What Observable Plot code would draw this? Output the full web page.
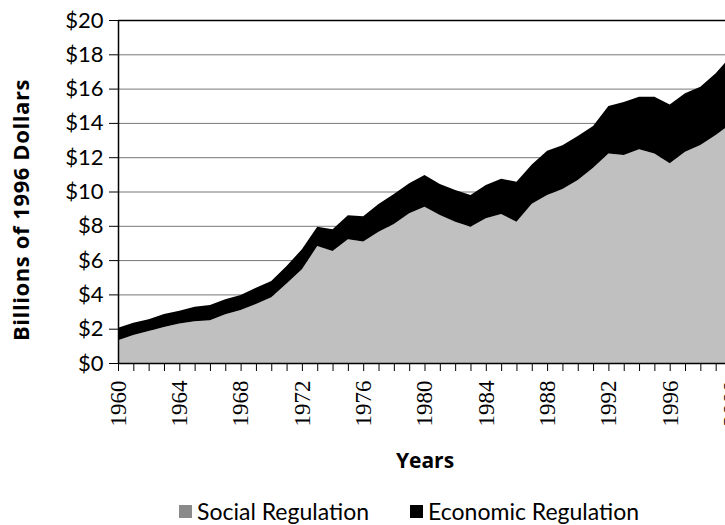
<!DOCTYPE html>
<html>
<head>
<meta charset="utf-8">
<script src="https://cdn.jsdelivr.net/npm/d3@7"></script>
<script src="https://cdn.jsdelivr.net/npm/@observablehq/plot@0.6"></script>
<style>
  html, body { margin: 0; padding: 0; background: #fff; overflow: hidden; width: 725px; height: 525px; }
  #chart { position: absolute; left: 0; top: 0; width: 741px; }
  #chart svg { max-width: none !important; width: 741px; height: 485px; }
  #chart .ylab text { letter-spacing: 0.6px; }
  #legend { position: absolute; left: 179px; top: 497px; display: flex; align-items: center; font-family: Lato, sans-serif; font-size: 23px; color: #000; white-space: nowrap; }
  .sw { display: inline-block; width: 13px; height: 13px; margin-right: 5px; }
  .item { display: flex; align-items: center; margin-right: 41px; }
</style>
</head>
<body>
<div id="chart"></div>
<div id="legend"></div>
<script>
const years = [1960,1961,1962,1963,1964,1965,1966,1967,1968,1969,1970,1971,1972,1973,1974,1975,1976,1977,1978,1979,1980,1981,1982,1983,1984,1985,1986,1987,1988,1989,1990,1991,1992,1993,1994,1995,1996,1997,1998,1999,2000];
const socialRegulation = [1.32,1.63,1.87,2.10,2.31,2.43,2.50,2.84,3.09,3.44,3.83,4.64,5.46,6.82,6.53,7.22,7.08,7.66,8.10,8.73,9.11,8.63,8.24,7.95,8.44,8.69,8.24,9.29,9.80,10.15,10.67,11.39,12.22,12.13,12.46,12.22,11.64,12.32,12.71,13.29,13.95];
const economicRegulation = [0.74,0.72,0.68,0.76,0.74,0.85,0.88,0.87,0.87,0.95,0.95,1.02,1.17,1.13,1.27,1.40,1.47,1.61,1.75,1.75,1.85,1.81,1.85,1.85,1.94,2.06,2.33,2.28,2.58,2.54,2.57,2.43,2.77,3.09,3.07,3.31,3.44,3.41,3.40,3.60,3.95];
const seriesNames = ["Social Regulation", "Economic Regulation"];
const seriesColors = ["#c0c0c0", "#000000"];
const legendColors = ["#8a8a8a", "#000000"];
const yTicks = [0,2,4,6,8,10,12,14,16,18,20];
const xLabelYears = [1960,1964,1968,1972,1976,1980,1984,1988,1992,1996,2000];

const data = [];
years.forEach((yr, i) => {
  data.push({year: yr, series: seriesNames[0], value: socialRegulation[i]});
  data.push({year: yr, series: seriesNames[1], value: economicRegulation[i]});
});

const chart = Plot.plot({
  width: 741,
  height: 485,
  marginLeft: 118,
  marginRight: 10,
  marginTop: 20,
  marginBottom: 122,
  style: {background: "#fff", maxWidth: "none"},
  x: {domain: [1960, 2000]},
  y: {domain: [0, 20]},
  color: {domain: seriesNames, range: seriesColors},
  marks: [
    Plot.ruleY(yTicks.filter(d => d > 0 && d < 20), {stroke: "#777", strokeWidth: 1}),
    Plot.areaY(data, {x: "year", y: "value", fill: "series", order: seriesNames, curve: "linear"}),
    Plot.ruleY([20], {stroke: "#000", strokeWidth: 1.5}),
    Plot.ruleY([0], {stroke: "#000", strokeWidth: 1.5}),
    Plot.ruleX([1960], {stroke: "#000", strokeWidth: 1.5}),
    Plot.axisY({ticks: yTicks, tickFormat: d => "$" + d, tickSize: 9, tickPadding: 6, fontSize: 22, fontFamily: "Lato, sans-serif", label: null, stroke: "#000"}),
    Plot.axisX({ticks: years, tickFormat: d => xLabelYears.includes(d) ? String(d) : "", tickSize: 8, tickPadding: 9, tickRotate: -90, fontSize: 23, fontFamily: "Liberation Serif, serif", label: null}),
    Plot.text(["Years"], {frameAnchor: "bottom", dy: 104, fontSize: 21, fontWeight: "bold", fontFamily: "Open Sans, sans-serif", fill: "#000"}),
    Plot.text(["Billions of 1996 Dollars"], {frameAnchor: "left", textAnchor: "middle", dx: -97, dy: 18, rotate: -90, fontSize: 22, fontWeight: "bold", fontFamily: "Open Sans, sans-serif", fill: "#000", className: "ylab"})
  ]
});
document.getElementById("chart").appendChild(chart);

const legend = document.getElementById("legend");
seriesNames.forEach((name, i) => {
  const item = document.createElement("div");
  item.className = "item";
  const sw = document.createElement("span");
  sw.className = "sw";
  sw.style.background = legendColors[i];
  item.appendChild(sw);
  item.appendChild(document.createTextNode(name));
  legend.appendChild(item);
});
</script>
</body>
</html>
